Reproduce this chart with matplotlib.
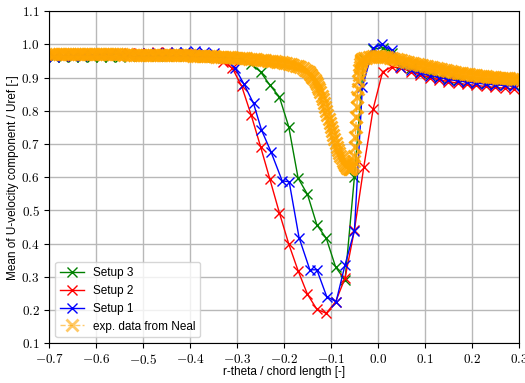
import matplotlib
matplotlib.use("Agg")
import matplotlib.pyplot as plt
from matplotlib.ticker import FuncFormatter, MultipleLocator

plt.rcParams["font.family"] = ["Liberation Sans", "DejaVu Sans"]
plt.rcParams["mathtext.fontset"] = "cm"

# ---- simulation: Setup 3 ----
setup3_x = [-0.69, -0.67, -0.65, -0.63, -0.61, -0.59, -0.57, -0.55, -0.53, -0.51,
            -0.49, -0.47, -0.45, -0.43, -0.41, -0.39, -0.37, -0.35, -0.33, -0.31,
            -0.29, -0.27, -0.25, -0.23, -0.21, -0.19, -0.17, -0.15, -0.13, -0.11,
            -0.09, -0.07, -0.05, -0.03, -0.01, 0.01, 0.03, 0.05, 0.07, 0.09,
            0.11, 0.13, 0.15, 0.17, 0.19, 0.21, 0.23, 0.25, 0.27, 0.29]
setup3_u = [0.961, 0.961, 0.962, 0.962, 0.962, 0.963, 0.963, 0.963, 0.964, 0.964,
            0.964, 0.964, 0.965, 0.965, 0.965, 0.964, 0.963, 0.962, 0.961, 0.960,
            0.955, 0.941, 0.917, 0.877, 0.842, 0.752, 0.597, 0.548, 0.456, 0.416,
            0.329, 0.290, 0.601, 0.955, 0.985, 0.990, 0.975, 0.940, 0.928, 0.918,
            0.910, 0.903, 0.897, 0.892, 0.888, 0.885, 0.882, 0.880, 0.878, 0.876]

# ---- simulation: Setup 2 ----
setup2_x = [-0.69, -0.67, -0.65, -0.63, -0.61, -0.59, -0.57, -0.55, -0.53, -0.51,
            -0.49, -0.47, -0.45, -0.43, -0.41, -0.39, -0.37, -0.35, -0.33, -0.31,
            -0.29, -0.27, -0.25, -0.23, -0.21, -0.19, -0.17, -0.15, -0.13, -0.11,
            -0.09, -0.07, -0.05, -0.03, -0.01, 0.01, 0.03, 0.05, 0.07, 0.09,
            0.11, 0.13, 0.15, 0.17, 0.19, 0.21, 0.23, 0.25, 0.27, 0.29]
setup2_u = [0.964, 0.965, 0.966, 0.967, 0.968, 0.969, 0.970, 0.972, 0.973, 0.974,
            0.975, 0.976, 0.976, 0.975, 0.974, 0.972, 0.969, 0.962, 0.947, 0.928,
            0.873, 0.787, 0.692, 0.593, 0.493, 0.399, 0.318, 0.247, 0.202, 0.190,
            0.225, 0.296, 0.441, 0.631, 0.806, 0.917, 0.932, 0.928, 0.918, 0.908,
            0.900, 0.893, 0.888, 0.883, 0.879, 0.876, 0.873, 0.870, 0.868, 0.866]

# ---- simulation: Setup 1 ----
setup1_x = [-0.69, -0.67, -0.65, -0.63, -0.61, -0.59, -0.57, -0.55, -0.53, -0.51,
            -0.49, -0.47, -0.45, -0.43, -0.41, -0.39, -0.37, -0.35, -0.33,
            -0.304, -0.285, -0.265, -0.248, -0.228, -0.204, -0.189, -0.168, -0.145, -0.130,
            -0.109, -0.089, -0.070, -0.050, -0.033, -0.010, 0.008, 0.029, 0.047,
            0.07, 0.09, 0.11, 0.13, 0.15, 0.17, 0.19, 0.21, 0.23, 0.25, 0.27, 0.29]
setup1_u = [0.963, 0.964, 0.965, 0.966, 0.967, 0.968, 0.969, 0.970, 0.971, 0.972,
            0.973, 0.974, 0.975, 0.977, 0.978, 0.979, 0.978, 0.975, 0.960,
            0.928, 0.879, 0.822, 0.742, 0.677, 0.589, 0.586, 0.418, 0.321, 0.321,
            0.240, 0.225, 0.336, 0.439, 0.872, 0.988, 1.000, 0.983, 0.932,
            0.922, 0.913, 0.906, 0.900, 0.894, 0.890, 0.886, 0.883, 0.880, 0.878, 0.876, 0.874]

# ---- experiment (Neal) ----
neal_x = [
    -0.700, -0.695, -0.690, -0.685, -0.680, -0.675, -0.670, -0.665, -0.660, -0.655,
    -0.650, -0.645, -0.640, -0.635, -0.630, -0.625, -0.620, -0.615, -0.610, -0.605,
    -0.600, -0.595, -0.590, -0.585, -0.580, -0.575, -0.570, -0.565, -0.560, -0.555,
    -0.550, -0.545, -0.540, -0.535, -0.530, -0.525, -0.520, -0.515, -0.510, -0.505,
    -0.500, -0.495, -0.490, -0.485, -0.480, -0.475, -0.470, -0.465, -0.460, -0.455,
    -0.450, -0.445, -0.440, -0.435, -0.430, -0.425, -0.420, -0.415, -0.410, -0.405,
    -0.400, -0.395, -0.390, -0.385, -0.380, -0.375, -0.370, -0.365, -0.360, -0.355,
    -0.350, -0.345, -0.340, -0.335, -0.330, -0.325, -0.320, -0.315, -0.310, -0.305,
    -0.300, -0.295, -0.290, -0.285, -0.280, -0.275, -0.270, -0.265, -0.260, -0.255,
    -0.250, -0.245, -0.240, -0.235, -0.230, -0.225, -0.220, -0.215, -0.210, -0.205,
    -0.200, -0.195, -0.190, -0.185, -0.180, -0.175, -0.170, -0.165, -0.160, -0.155,
    -0.150,
    -0.1475, -0.1450, -0.1425, -0.1400, -0.1375, -0.1350, -0.1325, -0.1300, -0.1275, -0.1250,
    -0.1225, -0.1200, -0.1175, -0.1150, -0.1125, -0.1100, -0.1075, -0.1050, -0.1025, -0.1000,
    -0.0975, -0.0950, -0.0925, -0.0900, -0.0875, -0.0850, -0.0825, -0.0800, -0.0775, -0.0750,
    -0.0725, -0.0700, -0.0675, -0.0650, -0.0625, -0.0600, -0.0575, -0.0550, -0.0525,
    -0.051, -0.050, -0.049, -0.048, -0.047, -0.046, -0.045, -0.044, -0.043, -0.042,
    -0.041, -0.040, -0.039, -0.038, -0.037, -0.036, -0.035, -0.034,
    -0.030, -0.025, -0.020, -0.015, -0.010, -0.005, 0.000, 0.005, 0.010, 0.015,
    0.020, 0.025, 0.030, 0.035, 0.040, 0.045, 0.050, 0.055, 0.060, 0.065,
    0.070, 0.075, 0.080, 0.085, 0.090, 0.095, 0.100, 0.105, 0.110, 0.115,
    0.120, 0.125, 0.130, 0.135, 0.140, 0.145, 0.150, 0.155, 0.160, 0.165,
    0.170, 0.175, 0.180, 0.185, 0.190, 0.195, 0.200, 0.205, 0.210, 0.215,
    0.220, 0.225, 0.230, 0.235, 0.240, 0.245, 0.250, 0.255, 0.260, 0.265,
    0.270, 0.275, 0.280, 0.285, 0.290, 0.295, 0.300]
neal_u = [
    0.971, 0.971, 0.971, 0.971, 0.971, 0.971, 0.971, 0.971, 0.971, 0.971,
    0.971, 0.971, 0.971, 0.971, 0.970, 0.971, 0.970, 0.970, 0.970, 0.970,
    0.970, 0.970, 0.970, 0.970, 0.970, 0.970, 0.970, 0.970, 0.970, 0.970,
    0.970, 0.970, 0.969, 0.970, 0.969, 0.969, 0.969, 0.969, 0.969, 0.969,
    0.969, 0.969, 0.969, 0.968, 0.968, 0.968, 0.968, 0.968, 0.968, 0.968,
    0.968, 0.968, 0.968, 0.967, 0.967, 0.967, 0.967, 0.967, 0.967, 0.967,
    0.967, 0.966, 0.966, 0.966, 0.966, 0.965, 0.965, 0.965, 0.964, 0.964,
    0.964, 0.963, 0.963, 0.963, 0.962, 0.962, 0.962, 0.961, 0.961, 0.960,
    0.960, 0.959, 0.959, 0.958, 0.958, 0.957, 0.956, 0.956, 0.955, 0.954,
    0.953, 0.953, 0.952, 0.951, 0.950, 0.950, 0.949, 0.948, 0.947, 0.946,
    0.945, 0.944, 0.942, 0.940, 0.938, 0.936, 0.934, 0.931, 0.928, 0.924,
    0.920,
    0.916, 0.912, 0.908, 0.903, 0.898, 0.893, 0.887, 0.880, 0.872, 0.864,
    0.855, 0.845, 0.835, 0.824, 0.812, 0.800, 0.788, 0.775, 0.762, 0.750,
    0.738, 0.726, 0.714, 0.703, 0.692, 0.682, 0.673, 0.665, 0.657, 0.650,
    0.644, 0.638, 0.633, 0.629, 0.626, 0.625, 0.626, 0.630, 0.637,
    0.648, 0.665, 0.690, 0.720, 0.750, 0.780, 0.810, 0.840, 0.865, 0.890,
    0.908, 0.922, 0.933, 0.941, 0.947, 0.951, 0.954, 0.956,
    0.958, 0.960, 0.962, 0.963, 0.964, 0.964, 0.964, 0.964, 0.963, 0.962,
    0.961, 0.960, 0.958, 0.957, 0.955, 0.953, 0.952, 0.950, 0.948, 0.946,
    0.945, 0.943, 0.942, 0.940, 0.939, 0.937, 0.936, 0.934, 0.932, 0.931,
    0.929, 0.928, 0.926, 0.925, 0.923, 0.922, 0.920, 0.919, 0.918, 0.916,
    0.915, 0.914, 0.913, 0.912, 0.911, 0.910, 0.909, 0.908, 0.907, 0.906,
    0.905, 0.904, 0.904, 0.903, 0.902, 0.902, 0.901, 0.900, 0.900, 0.899,
    0.899, 0.898, 0.898, 0.897, 0.897, 0.896, 0.896]

fig = plt.figure(figsize=(5.25, 3.83), dpi=100)
ax = fig.add_axes([0.094, 0.104, 0.894, 0.867])

sim_style = dict(marker="x", markersize=7, linewidth=1.0, markeredgewidth=1.0)
ax.plot(setup3_x, setup3_u, color="green", label="Setup 3", **sim_style)
ax.plot(setup2_x, setup2_u, color="red", label="Setup 2", **sim_style)
ax.plot(setup1_x, setup1_u, color="blue", label="Setup 1", **sim_style)
ax.plot(neal_x, neal_u, color="orange", linestyle="--", marker="x",
        markersize=8, markeredgewidth=2.0, linewidth=1.0, alpha=0.85,
        label="exp. data from Neal")

ax.set_xlim(-0.7, 0.3)
ax.set_ylim(0.1, 1.1)
ax.xaxis.set_major_locator(MultipleLocator(0.1))
ax.yaxis.set_major_locator(MultipleLocator(0.1))
fmt = FuncFormatter(lambda v, p: r"$%.1f$" % (0.0 if abs(v) < 1e-9 else v))
ax.xaxis.set_major_formatter(fmt)
ax.yaxis.set_major_formatter(fmt)
ax.tick_params(labelsize=9.5)
ax.grid(True, color="#b8b8b8", linewidth=1.0)
ax.set_axisbelow(True)

ax.set_xlabel("r-theta / chord length [-]", fontsize=8.5)
ax.set_ylabel("Mean of U-velocity component / Uref [-]", fontsize=8.5)
ax.xaxis.set_label_coords(0.5, -0.068)
ax.yaxis.set_label_coords(-0.065, 0.5)
leg = ax.legend(loc="lower left", fontsize=8.5)
for h in leg.legend_handles:
    h.set_alpha(0.6 if h.get_label() == "exp. data from Neal" else 1.0)

fig.savefig("out.png", dpi=100)
